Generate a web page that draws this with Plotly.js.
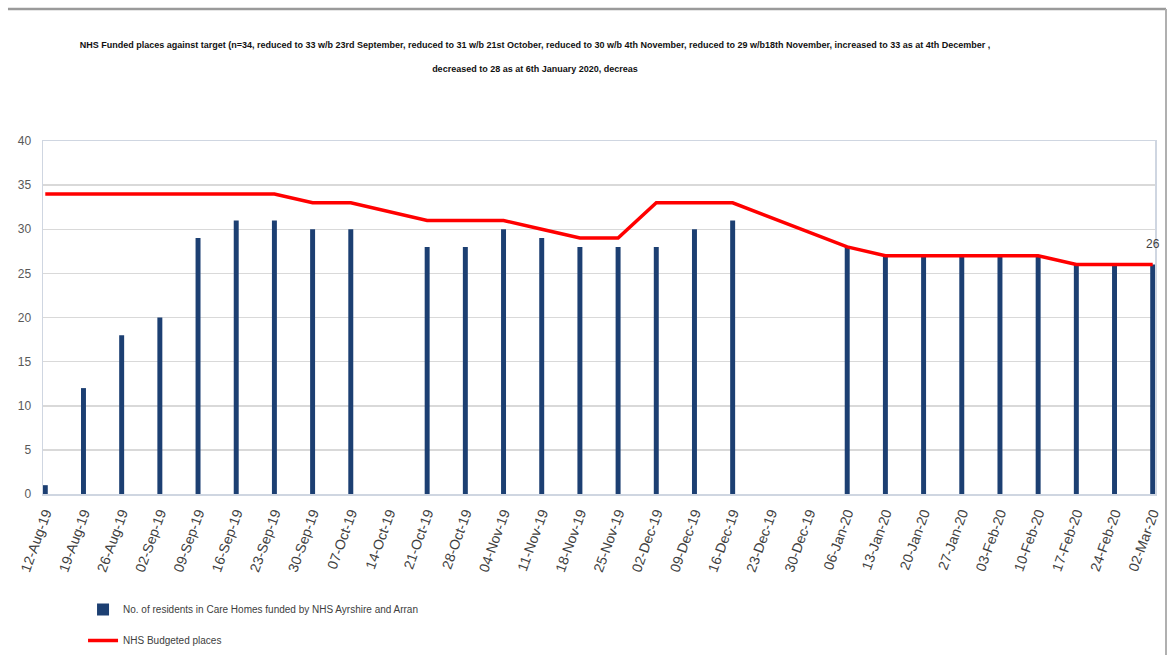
<!DOCTYPE html>
<html>
<head>
<meta charset="utf-8">
<script src="https://cdn.plot.ly/plotly-3.0.1.min.js"></script>
<style>html,body{margin:0;padding:0;background:#fff;}#chart{width:1168px;height:655px;}</style>
</head>
<body>
<div id="chart"></div>
<script>
const weeks = ["12-Aug-19","19-Aug-19","26-Aug-19","02-Sep-19","09-Sep-19","16-Sep-19","23-Sep-19","30-Sep-19",
  "07-Oct-19","14-Oct-19","21-Oct-19","28-Oct-19","04-Nov-19","11-Nov-19","18-Nov-19","25-Nov-19",
  "02-Dec-19","09-Dec-19","16-Dec-19","23-Dec-19","30-Dec-19","06-Jan-20","13-Jan-20","20-Jan-20",
  "27-Jan-20","03-Feb-20","10-Feb-20","17-Feb-20","24-Feb-20","02-Mar-20"];
const residents = [1,12,18,20,29,31,31,30,30,null,28,28,30,29,28,28,28,30,31,null,null,28,27,27,27,27,27,26,26,26];
const budgeted = [34,34,34,34,34,34,34,33,33,null,31,31,31,30,29,29,33,33,33,null,null,28,27,27,27,27,27,26,26,26];
const yTicks = [0,5,10,15,20,25,30,35,40];
const titleText = "NHS Funded places against target (n=34, reduced to 33 w/b 23rd September, reduced to 31 w/b 21st October, reduced to 30 w/b 4th November, reduced to 29 w/b18th November, increased to 33 as at 4th December ,<br><br>decreased to 28 as at 6th January 2020, decreas";
const residentsName = "No. of residents in Care Homes funded by NHS Ayrshire and Arran";
const budgetedName = "NHS Budgeted places";

const font = "'Liberation Sans', Arial, sans-serif";
const lastIdx = budgeted.length - 1;

const traces = [
  {
    type: "bar", x: weeks, y: residents, name: residentsName,
    marker: {color: "#1c3f72"}, legendgroup: "a"
  },
  {
    type: "scatter", mode: "lines", x: weeks, y: budgeted, name: budgetedName,
    line: {color: "#ff0000", width: 3.5}, connectgaps: true, legendgroup: "b"
  }
];

const layout = {
  width: 1168, height: 655,
  margin: {l: 43, r: 13, t: 141, b: 161},
  paper_bgcolor: "#ffffff", plot_bgcolor: "#ffffff",
  bargap: 0.87,
  showlegend: true,
  title: {
    text: titleText,
    font: {family: font, size: 9, color: "#111111", weight: "bold"},
    x: 0.458, xanchor: "center", xref: "container",
    y: 0.926, yanchor: "top", yref: "container"
  },
  xaxis: {
    type: "category", categoryorder: "array", categoryarray: weeks,
    range: [-0.06, 29.06], automargin: false,
    tickangle: -70,
    tickfont: {family: font, size: 14, color: "#404040"},
    showgrid: false, showline: true, linecolor: "#cfd6e1", linewidth: 1.5, mirror: true,
    ticks: "", ticklabelstandoff: 4, fixedrange: true
  },
  yaxis: {
    range: [0, 40], tickvals: yTicks, ticktext: yTicks.map(String), automargin: false,
    tickfont: {family: font, size: 12, color: "#595959"},
    showgrid: true, gridcolor: "#d9d9d9", gridwidth: 1.5,
    showline: true, linecolor: "#cfd6e1", linewidth: 1.5, mirror: true,
    zeroline: false, ticks: "", ticklabelstandoff: 8, fixedrange: true
  },
  legend: {
    orientation: "v", x: 0.036, xanchor: "left", xref: "paper",
    y: 0.0, yanchor: "bottom", yref: "container",
    font: {family: font, size: 10, color: "#404040"},
    tracegroupgap: 12, bgcolor: "rgba(0,0,0,0)", itemwidth: 30
  },
  annotations: [{
    x: weeks[lastIdx], y: budgeted[lastIdx], xref: "x", yref: "y",
    text: String(budgeted[lastIdx]), showarrow: false, yshift: 21,
    font: {family: font, size: 12, color: "#404040"}
  }],
  shapes: [
    {type: "line", xref: "paper", yref: "paper", x0: -0.0315, x1: 1.0099, y0: 1.374, y1: 1.374,
     line: {color: "#9a9a9a", width: 2.5}},
    {type: "line", xref: "paper", yref: "paper", x0: 1.0099, x1: 1.0099, y0: 1.374, y1: -0.46,
     line: {color: "#b0b0b0", width: 2}}
  ]
};

Plotly.newPlot("chart", traces, layout, {displayModeBar: false, staticPlot: true});
</script>
</body>
</html>
